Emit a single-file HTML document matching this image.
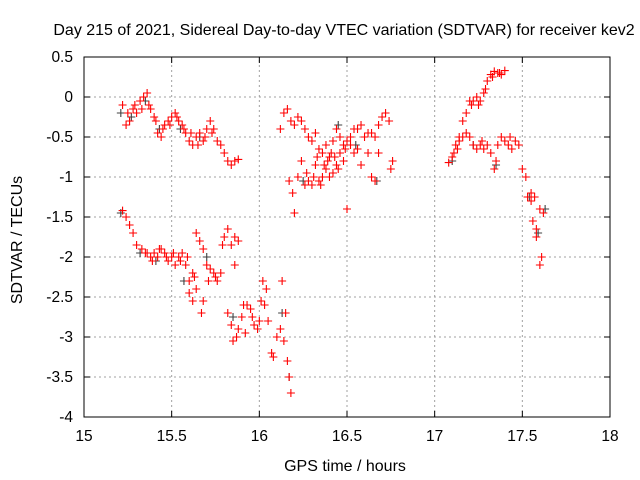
<!DOCTYPE html>
<html><head><meta charset="utf-8"><style>
body{margin:0;background:#fff}
svg{display:block;font-family:"Liberation Sans",sans-serif}
</style></head><body>
<svg id="chart" width="640" height="480" viewBox="0 0 640 480">
<text x="344" y="35" font-size="16" text-anchor="middle">Day 215 of 2021, Sidereal Day-to-day VTEC variation (SDTVAR) for receiver kev2</text>
<g id="grid"></g>
<g id="ticks" font-size="15.5"></g>
<g id="grayPts"></g>
<g id="redPts"></g>
<rect x="84" y="57" width="526" height="360" fill="none" stroke="#000" stroke-width="1"/>
<text x="345" y="471" font-size="16" text-anchor="middle">GPS time / hours</text>
<text transform="translate(22,240) rotate(-90)" font-size="16" text-anchor="middle">SDTVAR / TECUs</text>
</svg>
<script>
const xTicks=[15,15.5,16,16.5,17,17.5,18];
const xTickLabels=["15","15.5","16","16.5","17","17.5","18"];
const yTicks=[0.5,0,-0.5,-1,-1.5,-2,-2.5,-3,-3.5,-4];
const yTickLabels=["0.5","0","-0.5","-1","-1.5","-2","-2.5","-3","-3.5","-4"];
const redX=[15.22,15.24,15.26,15.28,15.30,15.32,15.34,15.36,15.38,15.40,15.42,15.44,15.46,15.48,15.50,15.52,15.54,15.56,15.58,15.60,15.62,15.64,15.66,15.68,15.70,15.72,15.74,15.76,15.78,15.80,15.82,15.84,15.86,15.88,
15.25,15.29,15.33,15.37,15.41,15.45,15.49,15.53,15.57,15.61,15.65,15.69,15.73,
15.22,15.24,15.26,15.28,15.30,15.33,15.36,15.38,15.40,15.42,15.44,15.46,15.48,15.50,15.52,15.54,15.56,15.58,15.60,15.62,15.64,15.66,15.68,15.70,15.72,15.74,15.76,15.78,15.80,15.82,15.84,15.86,15.88,15.35,15.39,15.43,15.47,15.51,15.55,15.59,15.63,15.60,15.62,15.64,15.68,15.67,15.71,15.75,15.79,
15.82,15.84,15.85,15.87,15.88,15.90,15.91,15.93,15.95,15.97,15.99,16.01,16.03,16.05,16.07,16.08,16.10,16.12,16.13,16.15,16.16,16.18,16.02,16.04,16.14,16.17,15.86,15.92,15.96,16.00,
16.12,16.14,16.16,16.18,16.20,16.22,16.24,16.26,16.28,16.30,16.32,16.34,16.36,16.38,16.40,16.42,16.44,16.46,16.48,16.50,16.52,16.54,16.56,16.58,16.60,16.62,16.64,16.66,16.68,16.70,16.72,16.74,16.76,16.75,16.33,16.37,16.41,16.45,16.49,
16.17,16.19,16.20,16.22,16.24,16.26,16.28,16.30,16.32,16.34,16.36,16.38,16.40,16.42,16.44,16.46,16.48,16.50,16.52,16.54,16.56,16.58,16.62,16.64,16.66,16.68,16.27,16.31,16.35,16.39,16.43,
17.08,17.10,17.12,17.14,17.16,17.18,17.20,17.22,17.24,17.26,17.28,17.30,17.32,17.34,17.36,17.38,17.40,17.21,17.25,17.29,17.33,17.37,
17.14,17.16,17.18,17.20,17.22,17.24,17.26,17.28,17.30,17.32,17.34,17.36,17.38,17.40,17.42,17.44,17.46,17.48,17.50,17.52,17.53,17.55,17.56,17.58,17.60,17.62,17.58,17.61,17.60,17.55,17.57,17.11,17.13,17.27,17.35,17.43];
const redY=[-0.10,-0.35,-0.30,-0.15,-0.20,-0.05,0.00,0.05,-0.15,-0.25,-0.45,-0.50,-0.35,-0.30,-0.25,-0.20,-0.30,-0.35,-0.45,-0.55,-0.60,-0.50,-0.45,-0.55,-0.40,-0.30,-0.40,-0.55,-0.60,-0.70,-0.80,-0.85,-0.80,-0.78,
-0.20,-0.10,-0.15,-0.10,-0.30,-0.40,-0.35,-0.25,-0.40,-0.45,-0.60,-0.50,-0.45,
-1.42,-1.50,-1.60,-1.70,-1.85,-1.90,-1.95,-2.00,-1.95,-2.00,-1.90,-1.95,-2.05,-2.00,-2.10,-2.00,-1.95,-2.10,-2.30,-2.20,-1.70,-1.80,-1.90,-2.10,-2.15,-2.20,-2.30,-2.20,-1.75,-1.65,-1.85,-1.75,-1.80,-1.95,-2.05,-1.90,-2.00,-1.95,-2.05,-2.00,-2.25,-2.45,-2.55,-2.40,-2.55,-2.70,-2.30,-2.25,-1.85,
-2.70,-2.85,-3.05,-3.00,-2.90,-2.75,-2.60,-2.60,-2.65,-2.85,-2.90,-2.55,-2.60,-2.80,-3.20,-3.25,-3.00,-2.90,-2.30,-2.70,-3.30,-3.70,-2.30,-2.40,-3.05,-3.50,-2.10,-2.95,-2.75,-2.80,
-0.40,-0.20,-0.15,-0.30,-0.35,-0.25,-0.30,-0.40,-0.50,-0.55,-0.45,-0.65,-0.70,-0.60,-0.75,-0.55,-0.40,-0.50,-0.60,-0.55,-0.50,-0.40,-0.40,-0.35,-0.50,-0.45,-0.45,-0.50,-0.35,-0.25,-0.20,-0.30,-0.80,-0.90,-0.75,-0.85,-0.70,-0.90,-0.65,
-1.05,-1.20,-1.45,-1.00,-0.80,-1.10,-1.05,-1.10,-0.85,-1.05,-1.00,-0.90,-1.00,-0.95,-0.85,-0.70,-0.80,-1.40,-0.60,-0.70,-0.65,-0.85,-0.70,-1.00,-1.05,-0.70,-0.95,-1.00,-1.10,-0.80,-0.75,
-0.82,-0.75,-0.60,-0.50,-0.30,-0.20,-0.05,-0.05,0.00,-0.05,0.05,0.20,0.28,0.32,0.30,0.28,0.33,-0.10,-0.10,0.10,0.25,0.30,
-0.55,-0.50,-0.45,-0.50,-0.60,-0.65,-0.60,-0.65,-0.60,-0.70,-0.90,-0.60,-0.50,-0.55,-0.60,-0.65,-0.55,-0.60,-0.90,-1.00,-1.25,-1.30,-1.55,-1.65,-1.40,-1.45,-1.75,-2.00,-2.10,-1.20,-1.25,-0.70,-0.65,-0.55,-0.80,-0.50];
const grayX=[15.21,15.27,15.35,15.43,15.55,15.66,15.21,15.32,15.41,15.57,15.70,15.85,16.13,16.17,16.25,16.45,16.55,16.67,17.10,17.22,17.35,17.54,17.59,17.63];
const grayY=[-0.20,-0.25,-0.05,-0.40,-0.40,-0.50,-1.45,-1.95,-2.05,-2.30,-2.00,-2.75,-2.70,-3.50,-1.05,-0.35,-0.60,-1.05,-0.80,-0.60,-0.85,-1.25,-1.70,-1.40];

const X0=84,X1=610,Y0=417,Y1=57;
const xs=v=>X0+(v-15)/3*(X1-X0);
const ys=v=>Y0-(v+4)/4.5*(Y0-Y1);
const NS="http://www.w3.org/2000/svg";
function mk(t,a,p){const e=document.createElementNS(NS,t);for(const k in a)e.setAttribute(k,a[k]);p.appendChild(e);return e;}
const grid=document.getElementById('grid'),ticks=document.getElementById('ticks');
xTicks.forEach((v,i)=>{const x=xs(v);
 if(i>0&&i<xTicks.length-1){const l=mk('line',{x1:x,y1:Y0,x2:x,y2:Y1,stroke:'#a0a0a0','stroke-dasharray':'2,3'},grid);
 
 }
 mk('line',{x1:x,y1:Y0,x2:x,y2:Y0-6,stroke:'#000'},ticks);mk('line',{x1:x,y1:Y1,x2:x,y2:Y1+6,stroke:'#000'},ticks);
 const t=mk('text',{x:x,y:Y0+24,'text-anchor':'middle'},ticks);t.textContent=xTickLabels[i];
 
 });
yTicks.forEach((v,i)=>{const y=ys(v);
 if(i>0&&i<yTicks.length-1){const l=mk('line',{x1:X0,y1:y,x2:X1,y2:y,stroke:'#a0a0a0','stroke-dasharray':'2,3'},grid);
 
 }
 mk('line',{x1:X0,y1:y,x2:X0+6,y2:y,stroke:'#000'},ticks);mk('line',{x1:X1,y1:y,x2:X1-6,y2:y,stroke:'#000'},ticks);
 const t=mk('text',{x:X0-11,y:y+5,'text-anchor':'end'},ticks);t.textContent=yTickLabels[i];
 
 });
function cross(g,x,y,c,name){const p=mk('path',{d:`M${x-4} ${y}h8M${x} ${y-4}v8`,stroke:c,'stroke-width':1.1,fill:'none'},g);
 
 }
const gg=document.getElementById('grayPts');
grayX.forEach((v,i)=>cross(gg,xs(v),ys(grayY[i]),'#404040','gray-point'));
const rg=document.getElementById('redPts');
redX.forEach((v,i)=>cross(rg,xs(v),ys(redY[i]),'#ff0000','red-point'));
</script>
</body></html>
